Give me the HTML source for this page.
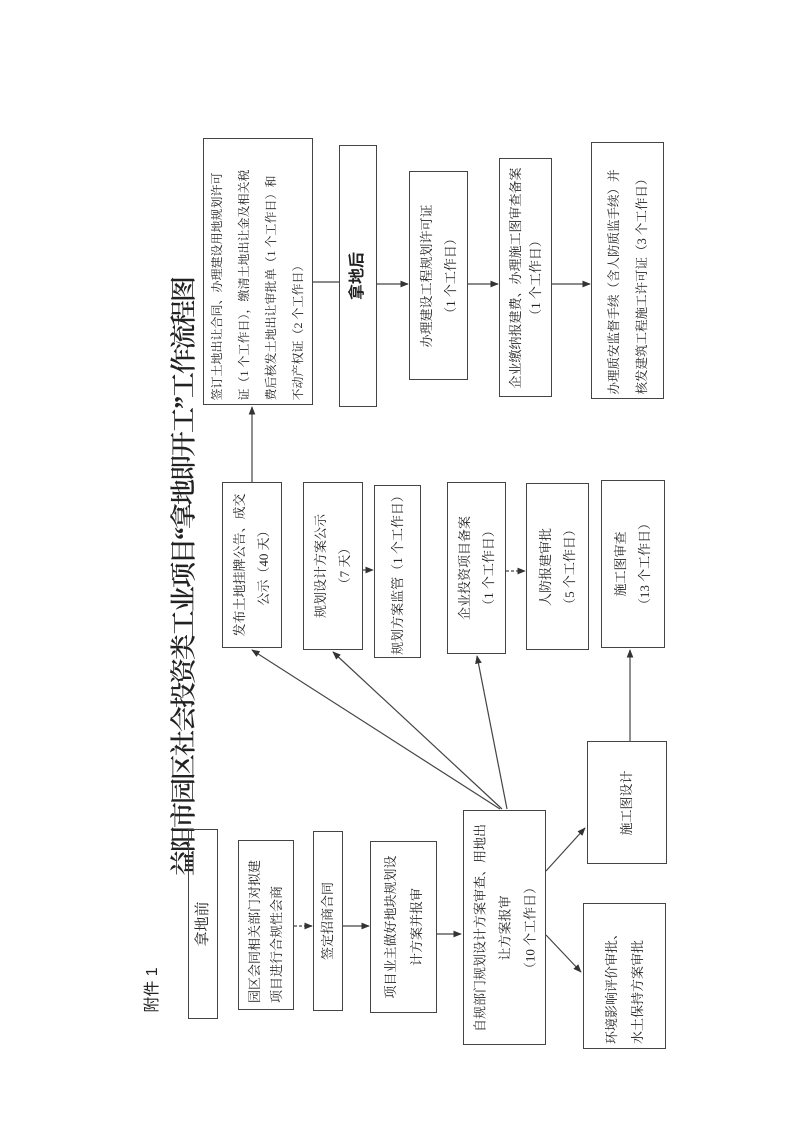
<!DOCTYPE html>
<html><head><meta charset="utf-8"><style>
body{margin:0;background:#fff;}
#p{position:relative;width:794px;height:1122px;overflow:hidden;background:#fff;font-family:"Liberation Serif","Noto Serif CJK SC","Noto Sans CJK SC",serif;color:#222;}
.b{position:absolute;border:1.3px solid #444;box-sizing:border-box;}
.t{position:absolute;left:50%;top:50%;transform:translate(-50%,-50%) rotate(-90deg);text-align:center;font-size:13px;line-height:22px;white-space:nowrap;}
.l{text-align:left;}
.r{position:absolute;transform:translate(-50%,-50%) rotate(-90deg);white-space:nowrap;}
svg{position:absolute;left:0;top:0;}
</style></head><body><div id="p">

<div class="r" style="left:150px;top:990px;font-size:16px;font-family:'Liberation Sans','Noto Sans CJK SC',sans-serif;">附件 1</div>
<div class="r" style="left:182px;top:577px;font-size:26px;letter-spacing:-2px;font-weight:600;font-family:'Liberation Serif','Noto Serif CJK SC',serif;">益阳市园区社会投资类工业项目“拿地即开工”工作流程图</div>

<div class="b" style="left:188px;top:829px;width:30px;height:190px"><div class="t" style="font-size:15px;">拿地前</div></div>
<div class="b" style="left:238px;top:840px;width:56px;height:170px"><div class="t l" style="width:156px;">园区会同相关部门对拟建<br>项目进行合规性会商</div></div>
<div class="b" style="left:313px;top:831px;width:30px;height:180px"><div class="t">签定招商合同</div></div>
<div class="b" style="left:370px;top:841px;width:67px;height:172px"><div class="t" style="width:160px;line-height:26px;">项目业主做好地块规划设<br>计方案并报审</div></div>
<div class="b" style="left:463px;top:810px;width:83px;height:235px"><div class="t" style="width:225px;line-height:25px;">自规部门规划设计方案审查、用地出<br>让方案报审<br>（10 个工作日）</div></div>
<div class="b" style="left:587px;top:741px;width:80px;height:123px"><div class="t">施工图设计</div></div>
<div class="b" style="left:583px;top:903px;width:83px;height:146px"><div class="t l" style="width:136px;line-height:26px;">环境影响评价审批、<br>水土保持方案审批</div></div>

<div class="b" style="left:222px;top:482px;width:60px;height:166px"><div class="t" style="width:156px;line-height:24px;">发布土地挂牌公告、成交<br>公示（40 天）</div></div>
<div class="b" style="left:303px;top:482px;width:60px;height:168px"><div class="t" style="line-height:24px;">规划设计方案公示<br>（7 天）</div></div>
<div class="b" style="left:374px;top:485px;width:47px;height:173px"><div class="t">规划方案监管（1 个工作日）</div></div>
<div class="b" style="left:447px;top:482px;width:59px;height:172px"><div class="t" style="line-height:24px;">企业投资项目备案<br>（1 个工作日）</div></div>
<div class="b" style="left:526px;top:483px;width:63px;height:167px"><div class="t" style="line-height:24px;">人防报建审批<br>（5 个工作日）</div></div>
<div class="b" style="left:601px;top:480px;width:64px;height:168px"><div class="t" style="line-height:24px;">施工图审查<br>（13 个工作日）</div></div>

<div class="b" style="left:203px;top:138px;width:110px;height:267px"><div class="t l" style="width:257px;font-size:12px;line-height:27px;">签订土地出让合同、办理建设用地规划许可<br>证（1 个工作日），缴清土地出让金及相关税<br>费后核发土地出让审批单（1 个工作日）和<br>不动产权证（2 个工作日）</div></div>
<div class="b" style="left:339px;top:145px;width:38px;height:262px"><div class="t" style="font-size:16px;font-weight:bold;font-family:'Liberation Sans','Noto Sans CJK SC',sans-serif;">拿地后</div></div>
<div class="b" style="left:409px;top:171px;width:59px;height:209px"><div class="t" style="line-height:24px;">办理建设工程规划许可证<br>（1 个工作日）</div></div>
<div class="b" style="left:499px;top:158px;width:53px;height:239px"><div class="t" style="line-height:20px;">企业缴纳报建费、办理施工图审查备案<br>（1 个工作日）</div></div>
<div class="b" style="left:591px;top:142px;width:73px;height:257px"><div class="t l" style="width:247px;line-height:28px;font-size:12.5px;">办理质安监督手续（含人防质监手续）并<br>核发建筑工程施工许可证（3 个工作日）</div></div>

<svg width="794" height="1122" viewBox="0 0 794 1122">
<defs><marker id="a" viewBox="0 0 10 10" refX="9" refY="5" markerWidth="7" markerHeight="7" orient="auto"><path d="M0,1 L10,5 L0,9 z" fill="#333"/></marker></defs>
<g stroke="#444" stroke-width="1.2" fill="none">
<line x1="294" y1="926" x2="312" y2="926" stroke-dasharray="3,2" marker-end="url(#a)"/>
<line x1="343" y1="926" x2="369" y2="926" marker-end="url(#a)"/>
<line x1="437" y1="934" x2="461" y2="934" marker-end="url(#a)"/>
<line x1="546" y1="871" x2="585" y2="828" marker-end="url(#a)"/>
<line x1="546" y1="935" x2="581" y2="972" marker-end="url(#a)"/>
<line x1="500" y1="809" x2="252" y2="650" marker-end="url(#a)"/>
<line x1="502" y1="809" x2="333" y2="652" marker-end="url(#a)"/>
<line x1="507" y1="809" x2="477" y2="656" marker-end="url(#a)"/>
<line x1="630" y1="741" x2="630" y2="650" marker-end="url(#a)"/>
<line x1="363" y1="570" x2="373" y2="570" stroke-dasharray="3,2" marker-end="url(#a)"/>
<line x1="506" y1="571" x2="525" y2="571" stroke-dasharray="3,2" marker-end="url(#a)"/>
<line x1="252" y1="482" x2="252" y2="407" marker-end="url(#a)"/>
<line x1="313" y1="282" x2="339" y2="282"/>
<line x1="377" y1="284" x2="408" y2="284" marker-end="url(#a)"/>
<line x1="468" y1="284" x2="498" y2="284" marker-end="url(#a)"/>
<line x1="552" y1="284" x2="590" y2="284" marker-end="url(#a)"/>
</g></svg>
</div></body></html>
